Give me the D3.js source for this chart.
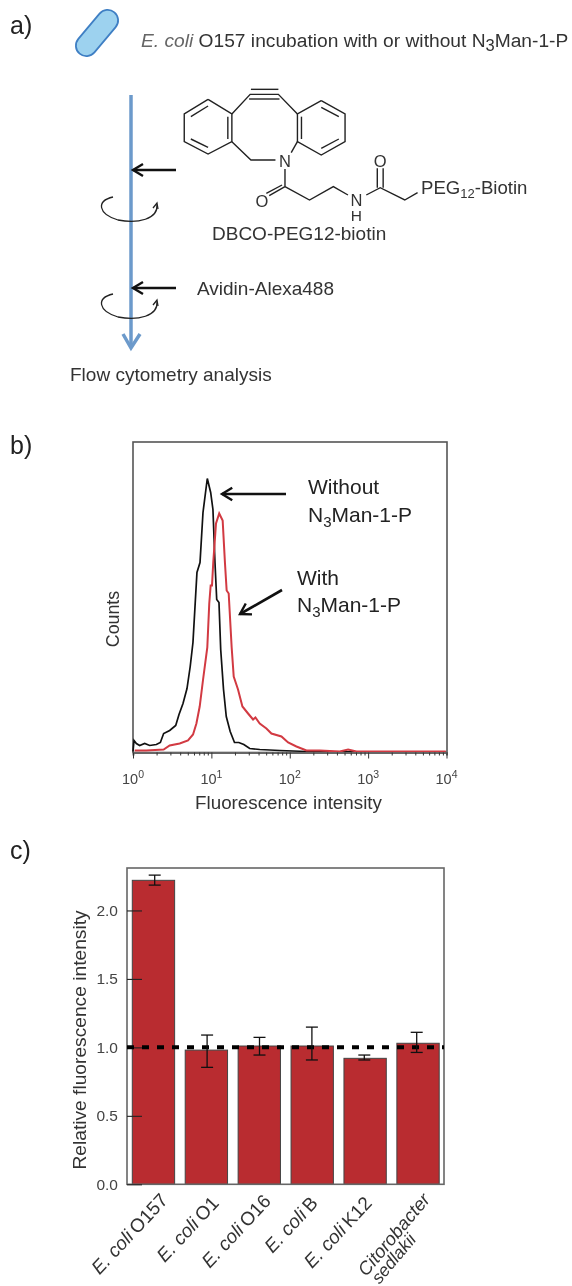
<!DOCTYPE html>
<html><head><meta charset="utf-8">
<script src="https://cdn.jsdelivr.net/npm/d3@7"></script>
<style>
html,body{margin:0;padding:0;background:#fff;overflow:hidden}
svg{display:block;filter:blur(0.55px)}
text{font-family:"Liberation Sans",Arial,sans-serif;fill:#333}
</style></head><body>
<svg id="fig" width="572" height="1286"></svg>
<script>
// Panel b: histogram values
const blackLogIntensity=[0,.013,.043,.085,.149,.213,.298,.349,.391,.468,.545,.587,.638,.689,.730,.765,.816,.855,.893,.948,.991,1.02,1.046,1.068,1.097,1.119,1.155,1.19,1.24,1.295,1.350,1.414,1.489,1.617,1.872,2.213,3.99];
const blackCounts=[1,12,9,7,9,7,8,10,19,22,27,38,49,64,86,110,180,190,240,274,260,243,190,153,150,103,63,36,21,10,10,8,4,3,2,1,.5];
const redLogIntensity=[.021,.170,.391,.468,.596,.702,.766,.809,.851,.894,.948,.973,.991,1.008,1.024,1.059,1.10,1.144,1.173,1.195,1.221,1.259,1.285,1.340,1.396,1.468,1.532,1.562,1.617,1.702,1.766,1.894,1.979,2.085,2.213,2.383,2.638,2.745,2.851,3.991];
const redCounts=[2,2,3,7,9,12,18,29,46,73,105,149,167,167,190,229,239,232,190,162,159,105,76,63,46,39,33,35,29,24,19,16,10,6,2,2,1,3,1,1];
// Panel c
const strains=["E. coli|O157","E. coli|O1","E. coli|O16","E. coli|B","E. coli|K12","Citorobacter sedlakii"];
const means=[2.22,.98,1.01,1.01,.92,1.03];
const errLow=[2.185,.854,.944,.908,.908,.963];
const errHigh=[2.258,1.09,1.073,1.148,.944,1.11];
const yTicksC=[0,.5,1,1.5,2];

const svg=d3.select("#fig");

function panelLabel(t,x,y){svg.append("text").attr("x",x).attr("y",y).attr("font-size",25).style("fill","#222").text(t);}
panelLabel("a)",10,34);panelLabel("b)",10,454);panelLabel("c)",10,859);

/* ---------- a) ---------- */
const A=svg.append("g");
A.append("rect").attr("x",-27).attr("y",-10.5).attr("width",54).attr("height",21).attr("rx",10.5)
 .attr("transform","translate(97,33) rotate(-50)").attr("fill","#9dd2ef").attr("stroke","#3f7fc4").attr("stroke-width",1.8);
const t1=A.append("text").attr("x",141).attr("y",46.5).attr("font-size",19.2);
t1.append("tspan").attr("font-style","italic").style("fill","#666").text("E. coli ");
t1.append("tspan").text("O157 incubation with or without N");
t1.append("tspan").attr("dy",4).attr("font-size",16.5).text("3");
t1.append("tspan").attr("dy",-4).text("Man-1-P");

// rod
A.append("line").attr("x1",131).attr("x2",131).attr("y1",95).attr("y2",347).attr("stroke","#6c9acb").attr("stroke-width",3.5);
A.append("path").attr("d","M123,334L131,348L140,334").attr("fill","none").attr("stroke","#6c9acb").attr("stroke-width",3.5);
[170,288].forEach(y=>{
 A.append("line").attr("x1",176).attr("x2",133).attr("y1",y).attr("y2",y).attr("stroke","#111").attr("stroke-width",2.6);
 A.append("path").attr("d",`M143,${y-6}L133,${y}L143,${y+6}`).attr("fill","none").attr("stroke","#111").attr("stroke-width",2.4);
});
[197,294].forEach(y=>{
 A.append("path").attr("d",`M113,${y}C96,${y+4} 98,${y+17} 118,${y+23}C138,${y+27} 158,${y+22} 157,${y+8}`)
  .attr("fill","none").attr("stroke","#222").attr("stroke-width",1.3);
 A.append("path").attr("d",`M153,${y+11}L157,${y+6}L158,${y+12}`).attr("fill","none").attr("stroke","#222").attr("stroke-width",1.3);
});

// structure: drawn in crop units, mapped to page units
const sx=d3.scaleLinear().domain([0,2.73]).range([0,1]), sy=d3.scaleLinear().domain([0,3]).range([0,1]);
const bonds=[
 [[568,298],[633,342],[633,425],[568,462],[503,425],[503,342],[568,298]],
 [[877,302],[942,342],[942,425],[877,465],[812,425],[812,342],[877,302]],
 [[568,318],[521,350]],[[521,417],[568,442]],
 [[622,350],[622,417]],[[823,350],[823,417]],[[877,322],[925,350]],[[925,417],[877,445]],
 [[633,342],[683,283],[760,283],[812,342]],[[685,268],[760,268]],[[680,297],[763,297]],
 [[633,425],[685,480],[752,480]],[[812,425],[795,458]],
 [[778,507],[778,560]],[[778,560],[735,587]],[[770,555],[727,580]],
 [[778,560],[845,600],[910,560],[950,585]],
 [[1000,585],[1038,563],[1105,600],[1140,578]],[[1030,563],[1030,505]],[[1046,563],[1046,505]]
];
const bondLine=d3.line().x(d=>sx(d[0])).y(d=>sy(d[1]));
A.selectAll("path.bond").data(bonds).join("path").attr("class","bond").attr("d",bondLine)
 .attr("fill","none").attr("stroke","#222").attr("stroke-width",1.4);
[["N",778,500,16.5],["O",715,622,16.5],["N",973,618,16.5],["H",973,664,15.5],["O",1038,500,16.5]].forEach(d=>{
 A.append("text").attr("x",sx(d[1])).attr("y",sy(d[2])).attr("text-anchor","middle").attr("font-size",d[3]).text(d[0]);
});
const peg=A.append("text").attr("x",421).attr("y",194).attr("font-size",18.6);
peg.append("tspan").text("PEG");
peg.append("tspan").attr("dy",4).attr("font-size",13).text("12");
peg.append("tspan").attr("dy",-4).text("-Biotin");
A.append("text").attr("x",212).attr("y",240).attr("font-size",19).text("DBCO-PEG12-biotin");
A.append("text").attr("x",197).attr("y",295).attr("font-size",19).text("Avidin-Alexa488");
A.append("text").attr("x",70).attr("y",381).attr("font-size",19).text("Flow cytometry analysis");

/* ---------- b) ---------- */
const B=svg.append("g");
const xb=d3.scaleLog().domain([1,1e4]).range([133,446.5]);
const yb=d3.scaleLinear().domain([0,310]).range([752.5,442.5]);
B.append("rect").attr("x",133).attr("y",442).attr("width",314).attr("height",310.5).attr("fill","none").attr("stroke","#555").attr("stroke-width",1.6);
const linB=d3.line().x(d=>xb(Math.pow(10,d[0]))).y(d=>yb(d[1]));
B.append("path").attr("d",linB(d3.zip(blackLogIntensity,blackCounts))).attr("fill","none").attr("stroke","#111").attr("stroke-width",1.7);
B.append("path").attr("d",linB(d3.zip(redLogIntensity,redCounts))).attr("fill","none").attr("stroke","#d23a42").attr("stroke-width",2);
const minorVals=d3.range(0,4).flatMap(e=>d3.range(1,10).map(m=>m*Math.pow(10,e))).concat([1e4]);
const axb=B.append("g").attr("transform","translate(0,752.5)")
 .call(d3.axisBottom(xb).tickValues(minorVals).tickSize(3).tickFormat(""));
axb.select(".domain").attr("stroke","#666").attr("stroke-width",2);
axb.selectAll(".tick line").attr("stroke","#333").attr("stroke-width",1)
 .filter(d=>Math.abs(Math.log10(d)%1)<1e-6).attr("y2",6);
[0,1,2,3,4].forEach(e=>{
 const t=B.append("text").attr("x",xb(Math.pow(10,e))).attr("y",784).attr("text-anchor","middle").attr("font-size",14.5).style("fill","#444");
 t.append("tspan").text("10");
 t.append("tspan").attr("dy",-6).attr("font-size",10.5).text(e);
});
B.append("text").attr("x",288.5).attr("y",809).attr("text-anchor","middle").attr("font-size",18.8).text("Fluorescence intensity");
B.append("text").attr("transform","translate(119,619) rotate(-90)").attr("text-anchor","middle").attr("font-size",17.8).text("Counts");
function sub3(x,y){
 const t=B.append("text").attr("x",x).attr("y",y).attr("font-size",21).style("fill","#222");
 t.append("tspan").text("N");
 t.append("tspan").attr("dy",5).attr("font-size",15).text("3");
 t.append("tspan").attr("dy",-5).text("Man-1-P");
}
B.append("text").attr("x",308).attr("y",494).attr("font-size",21).style("fill","#222").text("Without");
sub3(308,522);
B.append("text").attr("x",297).attr("y",585).attr("font-size",21).style("fill","#222").text("With");
sub3(297,612);
function arrow(x1,y1,x2,y2){
 B.append("line").attr("x1",x1).attr("y1",y1).attr("x2",x2).attr("y2",y2).attr("stroke","#111").attr("stroke-width",2.6);
 const a=Math.atan2(y2-y1,x2-x1),L=12,s=.55;
 const p=(sgn)=>[x2-L*Math.cos(a+sgn*s),y2-L*Math.sin(a+sgn*s)];
 B.append("path").attr("d",d3.line()([p(1),[x2,y2],p(-1)])).attr("fill","none").attr("stroke","#111").attr("stroke-width",2.4);
}
arrow(286,494,222,494);
arrow(282,590,240,614);

/* ---------- c) ---------- */
const C=svg.append("g");
const xc=d3.scaleBand().domain(strains).range([127,444.5]).paddingInner(.2).paddingOuter(.1);
const xe=d3.scalePoint().domain(strains).range([154.7,416.7]);
const yc=d3.scaleLinear().domain([0,2.31]).range([1184.3,868]);
C.selectAll("rect.bar").data(strains).join("rect").attr("class","bar")
 .attr("x",d=>xc(d)).attr("width",xc.bandwidth())
 .attr("y",(d,i)=>yc(means[i])).attr("height",(d,i)=>yc(0)-yc(means[i]))
 .attr("fill","#b92c30").attr("stroke","#444").attr("stroke-width",1);
C.append("rect").attr("x",127).attr("y",868).attr("width",317).attr("height",316.3).attr("fill","none").attr("stroke","#666").attr("stroke-width",1.6);
const ayc=C.append("g").attr("transform","translate(127,0)")
 .call(d3.axisLeft(yc).tickValues(yTicksC).tickSizeInner(-15).tickSizeOuter(0).tickPadding(9).tickFormat(d3.format(".1f")));
ayc.select(".domain").remove();
ayc.selectAll(".tick line").attr("stroke","#222").attr("stroke-width",1.1);
ayc.selectAll(".tick text").attr("font-size",15.5).style("fill","#444").style("font-family",'"Liberation Sans"');
C.append("line").attr("x1",127).attr("x2",444).attr("y1",yc(1)).attr("y2",yc(1))
 .attr("stroke","#000").attr("stroke-width",4).attr("stroke-dasharray","7 8");
strains.forEach((s,i)=>{
 const x=xe(s),g=C.append("g").attr("stroke","#111").attr("stroke-width",1.3);
 g.append("line").attr("x1",x).attr("x2",x).attr("y1",yc(errLow[i])).attr("y2",yc(errHigh[i]));
 [errLow[i],errHigh[i]].forEach(v=>g.append("line").attr("x1",x-6).attr("x2",x+6).attr("y1",yc(v)).attr("y2",yc(v)));
});
C.append("text").attr("transform","translate(85.5,1040) rotate(-90)").attr("text-anchor","middle").attr("font-size",19.2).text("Relative fluorescence intensity");
// rotated category labels
const labelEnds=[[169,1201],[220,1204],[272,1202],[319,1204],[373,1204]];
strains.slice(0,5).forEach((s,i)=>{
 const [a,b]=s.split("|");
 const t=C.append("text").attr("text-anchor","end").attr("font-size",19)
  .attr("transform",`translate(${labelEnds[i][0]},${labelEnds[i][1]}) rotate(-47)`);
 t.append("tspan").attr("font-style","italic").text(a);
 t.append("tspan").style("word-spacing","-1.5px").text(" "+b);
});
const last=strains[5].split(" ");
C.append("text").attr("text-anchor","end").attr("font-size",18.5).attr("font-style","italic")
 .attr("transform",`translate(431,1200) rotate(-50)`).text(last[0]);
C.append("text").attr("text-anchor","end").attr("font-size",17.5).attr("font-style","italic")
 .attr("transform",`translate(417,1240) rotate(-50)`).text(last[1]);
</script>
</body></html>
